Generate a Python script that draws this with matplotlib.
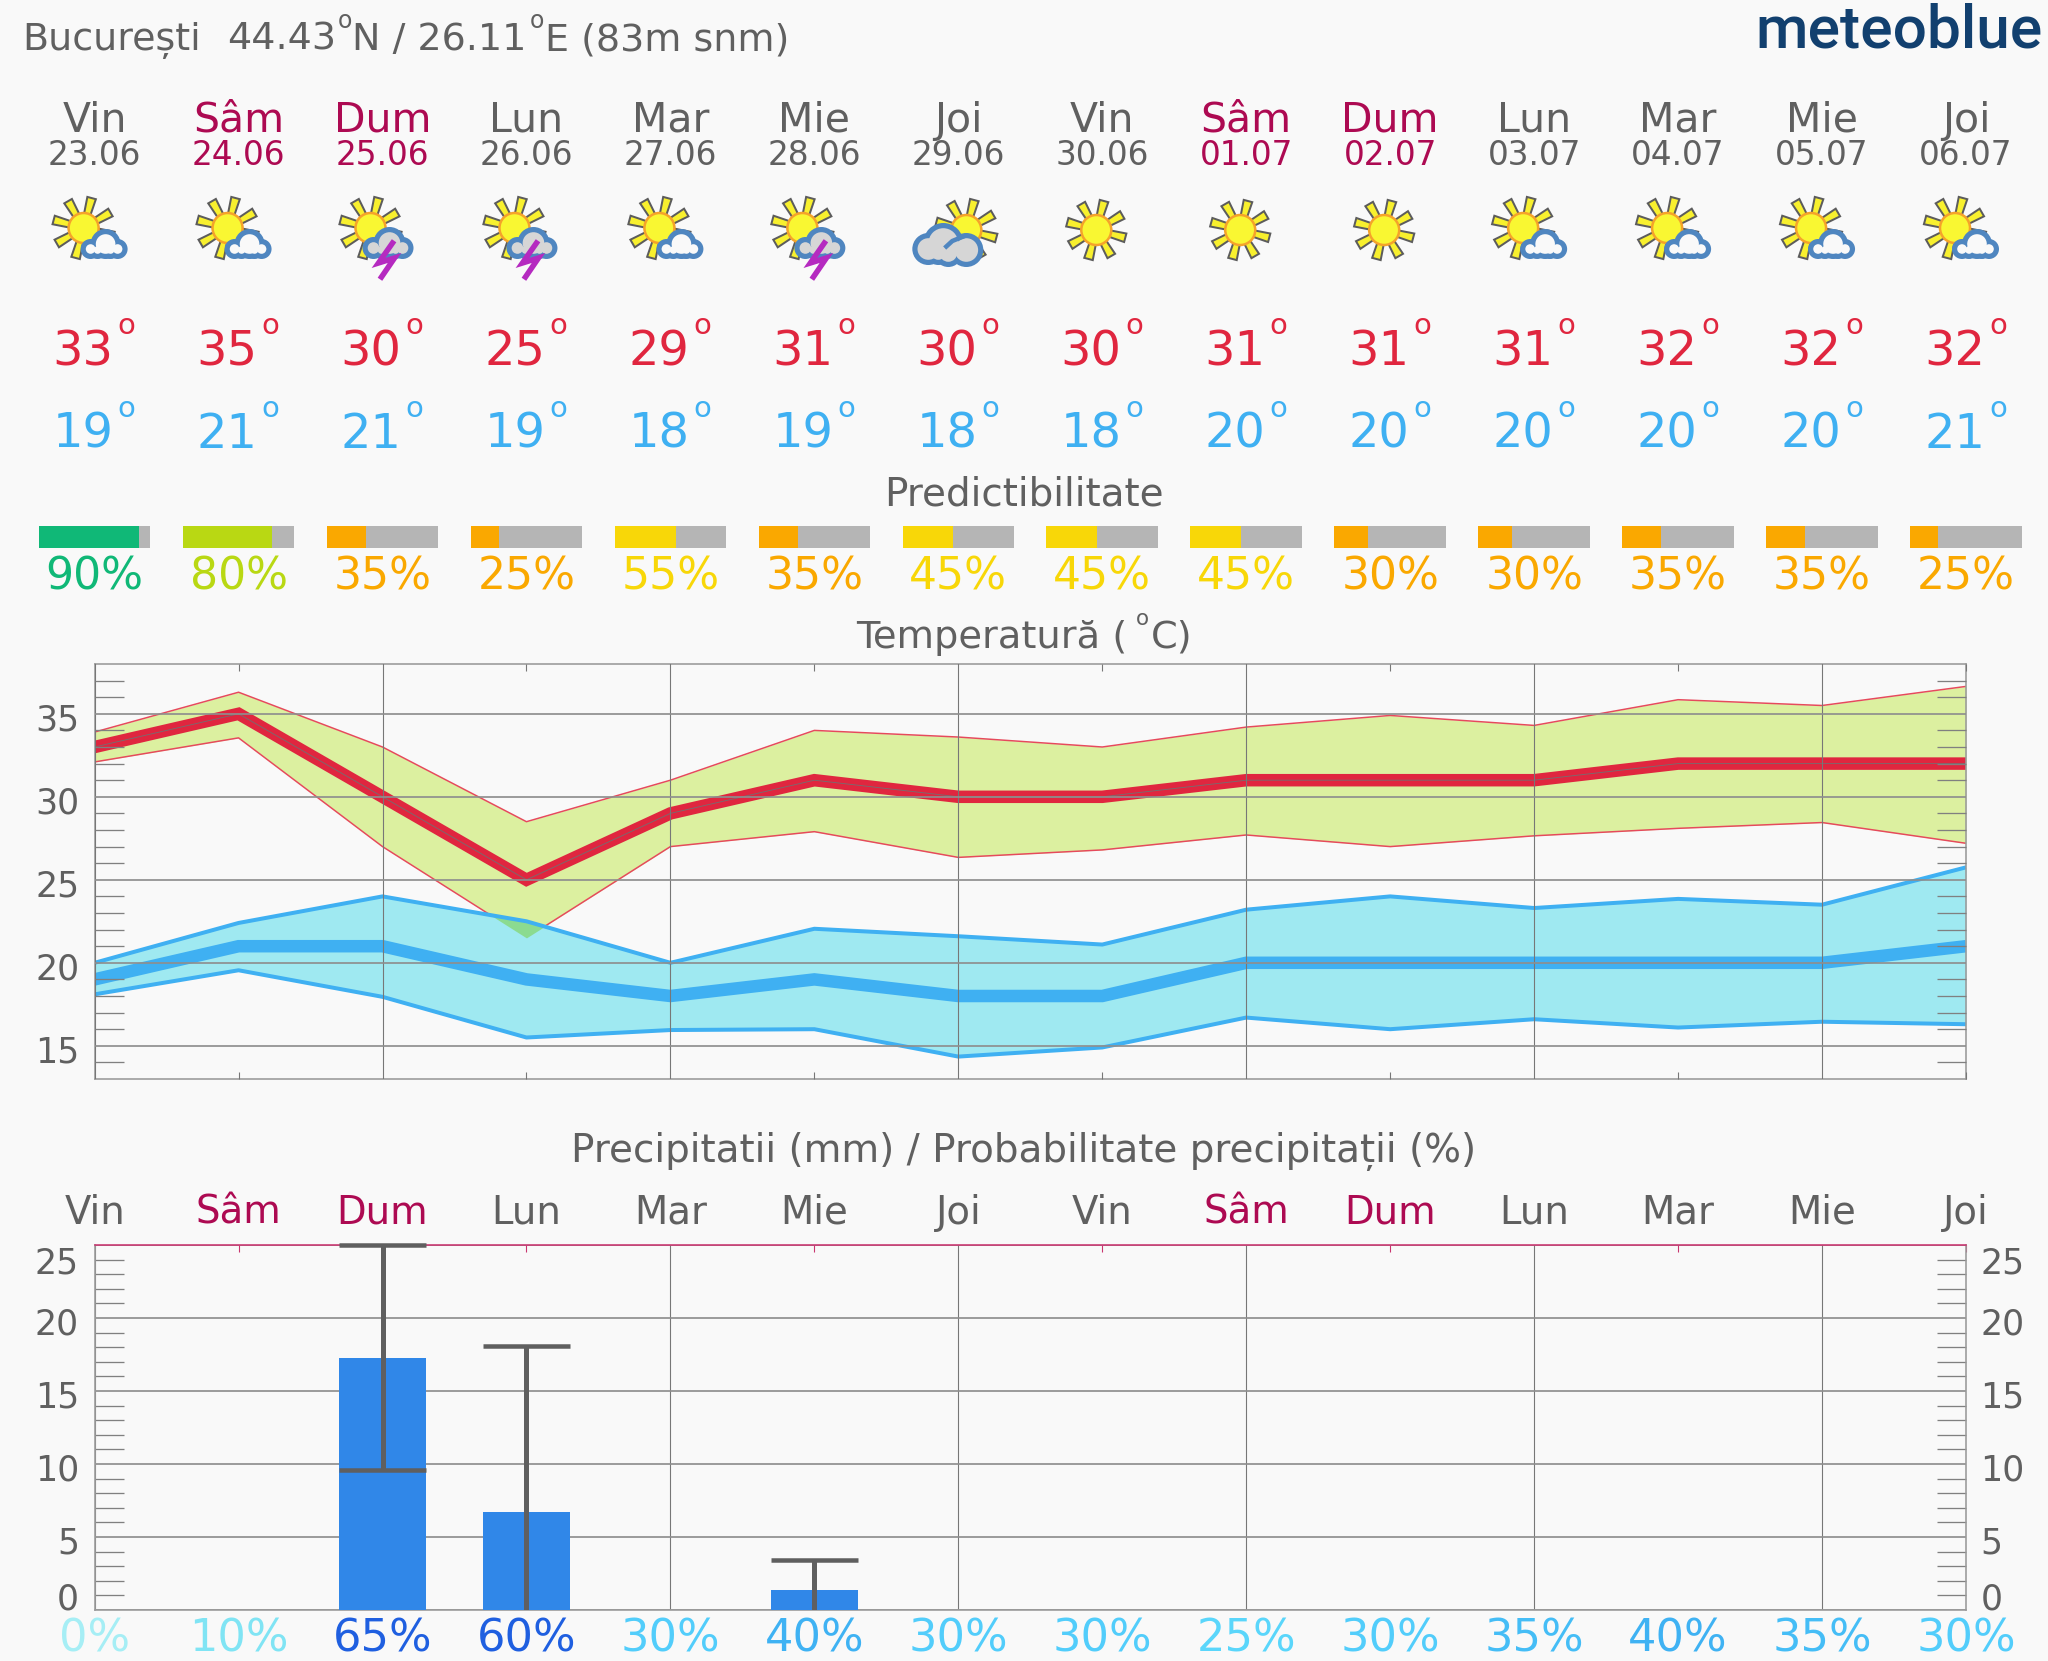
import matplotlib
matplotlib.use("Agg")
import numpy as np
import matplotlib.pyplot as plt
from matplotlib.patches import Circle, Polygon

plt.rcParams['font.family'] = ['DejaVu Sans']

# Datos
zile = ["Vin", "Sâm", "Dum", "Lun", "Mar", "Mie", "Joi", "Vin", "Sâm", "Dum", "Lun", "Mar", "Mie", "Joi"]
date = ["23.06", "24.06", "25.06", "26.06", "27.06", "28.06", "29.06", "30.06", "01.07", "02.07", "03.07", "04.07", "05.07", "06.07"]
weekend = [0, 1, 1, 0, 0, 0, 0, 0, 1, 1, 0, 0, 0, 0]
iconos = ["nor", "nor", "storm", "storm", "nor", "storm", "over", "sun", "sun", "sun", "nor", "nor", "nor", "nor"]
t_max = [33, 35, 30, 25, 29, 31, 30, 30, 31, 31, 31, 32, 32, 32]
t_min = [19, 21, 21, 19, 18, 19, 18, 18, 20, 20, 20, 20, 20, 21]
pred = [90, 80, 35, 25, 55, 35, 45, 45, 45, 30, 30, 35, 35, 25]
pred_col = ["#10b877", "#b9d813", "#faa800", "#faa800", "#f8d708", "#faa800", "#f8d708",
            "#f8d708", "#f8d708", "#faa800", "#faa800", "#faa800", "#faa800", "#faa800"]

max_up = [33.9, 36.3, 33.0, 28.5, 31.0, 34.0, 33.6, 33.0, 34.2, 34.9, 34.3, 35.85, 35.5, 36.65]
max_lo = [32.1, 33.55, 27.0, 21.5, 27.0, 27.9, 26.35, 26.8, 27.7, 27.0, 27.65, 28.1, 28.45, 27.2]
min_up = [20.0, 22.4, 24.0, 22.5, 20.0, 22.05, 21.6, 21.1, 23.2, 24.0, 23.3, 23.85, 23.5, 25.75]
min_lo = [18.1, 19.55, 17.95, 15.5, 15.95, 16.0, 14.35, 14.9, 16.7, 16.0, 16.6, 16.1, 16.45, 16.3]

lluvia = [0, 0, 17.25, 6.7, 0, 1.4, 0, 0, 0, 0, 0, 0, 0, 0]
lluvia_lo = [0, 0, 9.6, 0, 0, 0, 0, 0, 0, 0, 0, 0, 0, 0]
lluvia_up = [0, 0, 25, 18.1, 0, 3.4, 0, 0, 0, 0, 0, 0, 0, 0]
prob = [0, 10, 65, 60, 30, 40, 30, 30, 25, 30, 35, 40, 35, 30]
prob_col = ["#a6eef5", "#80e4f4", "#1f5fe0", "#1f5fe0", "#52cdfb", "#3fb2f3", "#52cdfb", "#52cdfb",
            "#5ad6fb", "#52cdfb", "#45bdf6", "#3fb2f3", "#45bdf6", "#52cdfb"]
prec_ticks = [0, 5, 10, 15, 20, 25]
prec_label_y = [0, 3.9, 8.9, 13.85, 18.9, 23.05]
temp_ticks = [15, 20, 25, 30, 35]

GRIS = "#606060"
VINO = "#ad0a52"
ROJO = "#e0263f"
AZUL = "#3fb0f2"
FONDO = "#f9f9f9"
W, H = 2048, 1661
X0, X1 = 94.6, 1966.0
DX = (X1 - X0) / 13
PX = 0.72  # pixeles a puntos con dpi 100

fig = plt.figure(figsize=(W / 100, H / 100), dpi=100, facecolor=FONDO)


def rect(x0, y0, x1, y1):
    return [x0 / W, 1 - y1 / H, (x1 - x0) / W, (y1 - y0) / H]


dias = np.arange(14)

# capa en pixeles para textos e iconos
top = fig.add_axes([0, 0, 1, 1])
top.set_xlim(0, W)
top.set_ylim(H, 0)
top.axis('off')


def sol(x, y, lr=31):
    for ang in np.radians(np.arange(30, 360, 45)):
        u = np.array([np.cos(ang), -np.sin(ang)])
        n = np.array([-u[1], u[0]])
        c = np.array([x, y])
        pts = [c + u * 13 + n * 3.2, c + u * lr + n * 4.4, c + u * lr - n * 4.4, c + u * 13 - n * 3.2]
        top.add_patch(Polygon(pts, fc="#f8f02e", ec="#5c5c5c", lw=2 * PX, zorder=3))
    top.add_patch(Circle((x, y), 15, fc="#f9f732", ec="#f5a32a", lw=2.5 * PX, zorder=4))


def nube(x, circulos, relleno):
    # circulos: (dx, y, r) radio exterior
    for dx, y, r in circulos:
        top.add_patch(Circle((x + dx, y), r, fc="#4f86c0", ec="none", zorder=5))
    for dx, y, r in circulos:
        top.add_patch(Circle((x + dx, y), r - 5.2, fc=relleno, ec="none", zorder=6))


for i, tipo in enumerate(iconos):
    x = X0 + i * DX
    if tipo == "nor":
        sol(x - 11, 228)
        nube(x, [(-4, 249, 10), (11, 244, 15), (23, 249, 10), (3, 250, 9), (16, 250, 9)], FONDO)
    elif tipo == "storm":
        sol(x - 12, 228)
        nube(x, [(-9, 248, 11), (7, 243, 16), (20, 248, 11), (-1, 250, 9), (13, 250, 9)], "#d6d6d6")
        top.plot([x + 10, x - 4, x + 12, x - 1], [243, 263, 258, 277], color="#b52ac0",
                 lw=5.5 * PX, zorder=7, solid_joinstyle='miter')
    elif tipo == "over":
        sol(x + 8, 230)
        nube(x, [(-30, 249, 16), (-15, 243, 20), (8, 250, 17), (-10, 253, 14), (-20, 252, 13)], "#d6d6d6")
        top.plot([x - 12, x - 6, x + 5], [246.5, 241, 236.5], color="#4f86c0", lw=4.5 * PX, zorder=7)
    else:
        sol(x - 6, 230, lr=30)

# cabecera
kw = dict(fontsize=27.4, color=GRIS, va='baseline', ha='left')
top.text(22, 50, "București", **kw)
top.text(227, 50, "44.43", **kw)
top.text(338, 28, "o", fontsize=17, color=GRIS, va='baseline', ha='left')
top.text(352, 50, "N / 26.11", **kw)
top.text(530, 28, "o", fontsize=17, color=GRIS, va='baseline', ha='left')
top.text(545, 50, "E (83m snm)", **kw)
top.text(2043, 47, "meteoblue", fontsize=43.5, family='Roboto', weight='medium', color="#12406f", va='baseline', ha='right')

for i in dias:
    x = X0 + i * DX
    col = VINO if weekend[i] else GRIS
    top.text(x, 131.7, zile[i], fontsize=29.5, color=col, ha='center', va='baseline')
    top.text(x, 165, date[i], fontsize=23.6, color=col, ha='center', va='baseline')
    for y, val, c in ((365, t_max[i], ROJO), (448, t_min[i], AZUL)):
        top.text(x + 19, y, str(val), fontsize=34.5, color=c, ha='right', va='baseline')
        top.text(x + 23, y - 31, "o", fontsize=21, color=c, ha='left', va='baseline')
    top.text(x, 589, f"{pred[i]}%", fontsize=31.8, color=pred_col[i], ha='center', va='baseline')
    top.text(x, 1224, zile[i], fontsize=27.8, color=col, ha='center', va='baseline')
    top.text(x, 1651, f"{prob[i]}%", fontsize=32.2, color=prob_col[i], ha='center', va='baseline')

top.text(W / 2, 506, "Predictibilitate", fontsize=28, color=GRIS, ha='center', va='baseline')
kw = dict(fontsize=27.6, color=GRIS, va='baseline', ha='left')
top.text(856, 647.7, "Temperatură (", **kw)
top.text(1136, 625, "o", fontsize=15.5, color=GRIS, va='baseline', ha='left')
top.text(1151, 647.7, "C)", **kw)
top.text(W / 2, 1162, "Precipitatii (mm) / Probabilitate precipitații (%)", fontsize=28, color=GRIS, ha='center', va='baseline')

# barras de predictibilidad
ax_p = fig.add_axes(rect(0, 526, W, 548))
ax_p.set_xlim(-X0 / DX, (W - X0) / DX)
ax_p.set_ylim(0, 1)
ax_p.axis('off')
ancho = 0.775
ax_p.bar(dias, 1, width=ancho, color="#b5b5b5")
ax_p.bar(dias - ancho / 2, 1, width=ancho * np.array(pred) / 100, align='edge', color=pred_col)

# temperatura
ax = fig.add_axes(rect(X0, 664, X1, 1079), facecolor=FONDO)
ax.fill_between(dias, max_lo, max_up, color="#dcf0a0", lw=0, zorder=1)
ax.plot(dias, max_up, color="#e64a5c", lw=1.5 * PX, zorder=1.05)
ax.plot(dias, max_lo, color="#e64a5c", lw=1.5 * PX, zorder=1.05)
ax.fill_between(dias, min_lo, min_up, color="#9fe9f1", lw=0, zorder=1.1)
ax.fill_between(dias, max_lo, min_up, where=np.array(min_up) > np.array(max_lo), interpolate=True,
                color="#8bdb90", lw=0, zorder=1.2)
ax.plot(dias, min_up, color=AZUL, lw=4 * PX, zorder=1.5)
ax.plot(dias, min_lo, color=AZUL, lw=4 * PX, zorder=1.5)
ax.plot(dias, t_min, color=AZUL, lw=12.5 * PX, zorder=1.6, solid_joinstyle='miter', solid_capstyle='butt')
ax.plot(dias, t_max, color=ROJO, lw=12.5 * PX, zorder=1.7, solid_joinstyle='miter', solid_capstyle='butt')
ax.plot(dias, t_max, color="#7a6a6e", lw=0.9 * PX, zorder=1.8)
ax.set_xlim(0, 13)
ax.set_ylim(13, 38)
ax.set_axisbelow(False)

# precipitacion
ax2 = fig.add_axes(rect(X0, 1245, X1, 1610), facecolor=FONDO)
ax2.bar(dias, lluvia, width=0.605, color="#3087e8", zorder=3)
for i in dias:
    if lluvia_up[i] > 0:
        ax2.plot([i, i], [lluvia_lo[i], lluvia_up[i]], color="#5f5f5f", lw=5 * PX, zorder=4, solid_capstyle='butt')
        ax2.plot([i - 0.3025, i + 0.3025], [lluvia_up[i]] * 2, color="#5f5f5f", lw=4.5 * PX, zorder=4,
                 solid_capstyle='butt', clip_on=False)
        if lluvia_lo[i] > 0:
            ax2.plot([i - 0.3025, i + 0.3025], [lluvia_lo[i]] * 2, color="#5f5f5f", lw=4.5 * PX, zorder=4,
                     solid_capstyle='butt')
ax2.set_xlim(0, 13)
ax2.set_ylim(0, 25)
ax2.set_axisbelow(True)

# ejes de los dos paneles
for a, marcas in ((ax, temp_ticks), (ax2, prec_ticks)):
    a.set_xticks(dias[::2])
    a.set_xticks(dias[1::2], minor=True)
    a.set_yticks(marcas)
    a.set_yticks(np.arange(a.get_ylim()[0] + 1, a.get_ylim()[1]), minor=True)
    a.set_xticklabels([])
    a.set_yticklabels([])
    a.tick_params(which='major', length=0)
    a.tick_params(axis='y', which='minor', direction='in', left=True, right=True, length=29 * PX, width=1.3 * PX, color="#808080")
    a.xaxis.grid(True, color="#777777", lw=1.1 * PX)
    a.yaxis.grid(True, color="#8e8e8e", lw=1.7 * PX)
    for s in a.spines.values():
        s.set_color("#9a9a9a")
        s.set_linewidth(1.6 * PX)

ax.tick_params(axis='x', which='minor', direction='in', top=True, bottom=True, length=7 * PX, width=1.1 * PX, color="#777777")
ax2.tick_params(axis='x', which='minor', direction='in', top=True, bottom=False, length=7 * PX, width=1.1 * PX, color="#c9356f")
ax2.spines['top'].set_color("#c9356f")

for v in temp_ticks:
    ax.annotate(str(v), xy=(0, v), xycoords=ax.get_yaxis_transform(), xytext=(-15 * PX, -17 * PX),
                textcoords='offset points', ha='right', va='baseline', fontsize=25, color=GRIS)
for v, y in zip(prec_ticks, prec_label_y):
    ax2.annotate(str(v), xy=(0, y), xycoords=ax2.get_yaxis_transform(), xytext=(-15.5 * PX, 0),
                 textcoords='offset points', ha='right', va='baseline', fontsize=25, color=GRIS)
    ax2.annotate(str(v), xy=(1, y), xycoords=ax2.get_yaxis_transform(), xytext=(14.5 * PX, 0),
                 textcoords='offset points', ha='left', va='baseline', fontsize=25, color=GRIS)

fig.savefig("out.png", dpi=100, facecolor=FONDO)
